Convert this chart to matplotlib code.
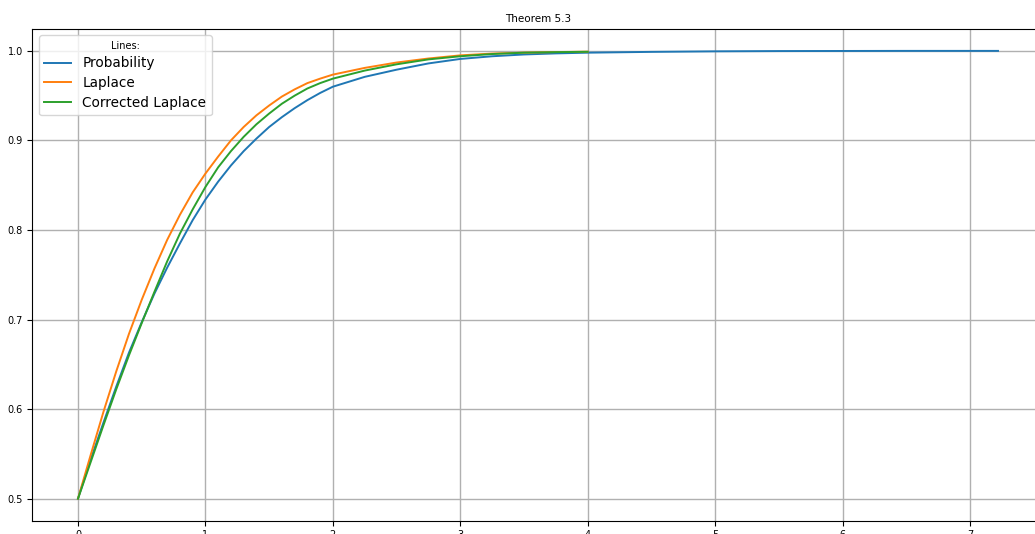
import matplotlib
matplotlib.use("Agg")
import matplotlib.pyplot as plt

# Read-off values
x_main = [0.0, 0.1, 0.2, 0.3, 0.4, 0.5, 0.6, 0.7, 0.8, 0.9, 1.0, 1.1, 1.2, 1.3,
          1.4, 1.5, 1.6, 1.7, 1.8, 1.9, 2.0, 2.25, 2.5, 2.75, 3.0, 3.25, 3.5,
          3.75, 4.0]
laplace = [0.5, 0.549, 0.597, 0.642, 0.684, 0.722, 0.757, 0.789, 0.817, 0.842,
           0.863, 0.882, 0.900, 0.915, 0.928, 0.939, 0.949, 0.957, 0.964, 0.969,
           0.9735, 0.981, 0.987, 0.9915, 0.995, 0.997, 0.998, 0.9987, 0.9991]
corrected = [0.5, 0.541, 0.582, 0.622, 0.660, 0.696, 0.731, 0.765, 0.796, 0.823,
             0.848, 0.870, 0.888, 0.904, 0.918, 0.930, 0.941, 0.950, 0.958, 0.964,
             0.969, 0.978, 0.985, 0.9905, 0.994, 0.9965, 0.998, 0.9986, 0.999]

x_prob = [0.0, 0.1, 0.2, 0.3, 0.4, 0.5, 0.6, 0.7, 0.8, 0.9, 1.0, 1.1, 1.2, 1.3,
          1.4, 1.5, 1.6, 1.7, 1.8, 1.9, 2.0, 2.25, 2.5, 2.75, 3.0, 3.25, 3.5,
          3.75, 4.0, 4.5, 5.0, 5.5, 6.0, 6.5, 7.22]
probability = [0.5, 0.544, 0.585, 0.625, 0.663, 0.697, 0.729, 0.758, 0.785,
               0.811, 0.834, 0.854, 0.872, 0.888, 0.902, 0.915, 0.926, 0.936,
               0.945, 0.953, 0.960, 0.971, 0.979, 0.986, 0.991, 0.994, 0.996,
               0.9972, 0.998, 0.9989, 0.9995, 0.9998, 0.9999, 1.0, 1.0]

W, H = 1035, 534
fig = plt.figure(figsize=(W / 100, H / 100), dpi=100)
left = 32 / W
right = 1044 / W
bottom = (H - 521) / H
top = (H - 28.5) / H
ax = fig.add_axes([left, bottom, right - left, top - bottom])

ax.plot(x_prob, probability, color="#1f77b4", lw=1.4, label="Probability")
ax.plot(x_main, laplace, color="#ff7f0e", lw=1.4, label="Laplace")
ax.plot(x_main, corrected, color="#2ca02c", lw=1.4, label="Corrected Laplace")

ax.set_xlim(-0.361, 7.581)
ax.set_ylim(0.475, 1.025)
ax.set_yticks([0.5, 0.6, 0.7, 0.8, 0.9, 1.0])
ax.set_xticks([0, 1, 2, 3, 4, 5, 6, 7])
ax.tick_params(labelsize=7, pad=3)
ax.grid(True, color="#b0b0b0", lw=1.0)
ax.set_title("Theorem 5.3", fontsize=7.5, pad=5)

leg = ax.legend(title="Lines:", fontsize=9.8, title_fontsize=7, loc="upper left",
                labelspacing=0.42)

fig.savefig("out.png", dpi=100)
